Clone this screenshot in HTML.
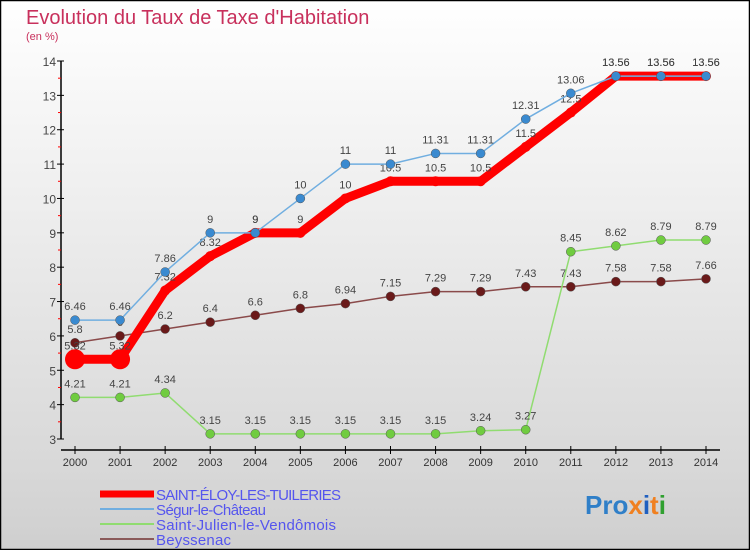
<!DOCTYPE html>
<html><head><meta charset="utf-8"><style>
body{margin:0;width:750px;height:550px;overflow:hidden;font-family:"Liberation Sans",sans-serif}
</style></head><body>
<svg id="c" width="750" height="550" xmlns="http://www.w3.org/2000/svg" style="display:block">
<defs>
<linearGradient id="bg" x1="0" y1="0" x2="0" y2="1">
<stop offset="0" stop-color="#ffffff"/><stop offset="0.85" stop-color="#d8d8d8"/><stop offset="1" stop-color="#cfcfcf"/>
</linearGradient>
</defs>
<rect x="0.5" y="0.5" width="749" height="549" fill="url(#bg)" stroke="#000" stroke-width="1.5"/>
<text x="26" y="24" font-size="20" fill="#c8305c">Evolution du Taux de Taxe d'Habitation</text>
<text x="26" y="40" font-size="11" fill="#c8305c">(en %)</text>
<g id="axes"></g>
<g id="series"></g>
<g id="legend"></g>
<text x="585" y="514" font-size="26" font-weight="bold"><tspan fill="#2f7fc8">Pro</tspan><tspan fill="#f08020">x</tspan><tspan fill="#2060c0">i</tspan><tspan fill="#f08020">t</tspan><tspan fill="#30a030">i</tspan></text>
</svg>
<script>
const years=[2000,2001,2002,2003,2004,2005,2006,2007,2008,2009,2010,2011,2012,2013,2014];
const yTicks=[3,4,5,6,7,8,9,10,11,12,13,14];
const seriesNames=["SAINT-ÉLOY-LES-TUILERIES","Ségur-le-Château","Saint-Julien-le-Vendômois","Beyssenac"];
const eloy=[5.32,5.32,7.32,8.32,9,9,10,10.5,10.5,10.5,11.5,12.5,13.56,13.56,13.56];
const segur=[6.46,6.46,7.86,9,9,10,11,11,11.31,11.31,12.31,13.06,13.56,13.56,13.56];
const julien=[4.21,4.21,4.34,3.15,3.15,3.15,3.15,3.15,3.15,3.24,3.27,8.45,8.62,8.79,8.79];
const beyss=[5.8,6,6.2,6.4,6.6,6.8,6.94,7.15,7.29,7.29,7.43,7.43,7.58,7.58,7.66];

const NS="http://www.w3.org/2000/svg";
const X=i=>75+i*(706-75)/(years.length-1);
const Y=v=>439-(v-3)*(439-61)/11;
function mk(t,a,p){const e=document.createElementNS(NS,t);for(const k in a)e.setAttribute(k,a[k]);p.appendChild(e);return e;}
const ax=document.getElementById('axes');
let yl=mk('line',{x1:61,y1:439,x2:61,y2:61,stroke:'#000','stroke-width':1.5},ax);


let xl=mk('line',{x1:61,y1:450,x2:720,y2:450,stroke:'#000','stroke-width':1.5},ax);


yTicks.forEach(v=>{
  mk('line',{x1:57,y1:Y(v),x2:64,y2:Y(v),stroke:'#000'},ax);
  if(v<14)mk('line',{x1:58,y1:Y(v+0.5),x2:61,y2:Y(v+0.5),stroke:'#f00'},ax);
  const t=mk('text',{x:56,y:Y(v)+5,'font-size':12,fill:'#444','text-anchor':'end'},ax);
  
  
  t.textContent=v;
});
years.forEach((yr,i)=>{
  mk('line',{x1:X(i),y1:446,x2:X(i),y2:454,stroke:'#000'},ax);
  const t=mk('text',{x:X(i),y:466,'font-size':11,fill:'#333','text-anchor':'middle'},ax);
  
  
  t.textContent=yr;
});
const sg=document.getElementById('series');
const defs=[
 {d:beyss,c:'#8a4a4a',dot:'#6a1a1a',w:1.5,r:4.5,n:'beyssenac'},
 {d:julien,c:'#90dc70',dot:'#70cc40',w:1.5,r:4.5,n:'saint-julien'},
 {d:eloy,c:'#f00',dot:'#f00',w:9,r:5,n:'saint-eloy'},
 {d:segur,c:'#70aee0',dot:'#3a8ad0',w:1.5,r:4.5,n:'segur'}];
defs.forEach(s=>{
  const g=mk('g',{},sg);
  
  
  const pl=mk('polyline',{points:s.d.map((v,i)=>X(i)+','+Y(v)).join(' '),fill:'none',stroke:s.c,'stroke-width':s.w,'stroke-linejoin':'round'},g);
  
  
  s.d.forEach((v,i)=>{
    const big=s.n==='saint-eloy'&&i<2;
    const c=mk('circle',{cx:X(i),cy:Y(v),r:big?10:s.r,fill:s.dot,stroke:s.n==='saint-eloy'?'none':'#555','stroke-width':0.5},g);
    
    
    const t=mk('text',{x:X(i),y:Y(v)-10,'font-size':11,fill:'#444','text-anchor':'middle'},g);
    
    
    t.textContent=v;
  });
});
const lg=document.getElementById('legend');
const lc=['#f00','#70aee0','#90dc70','#8a5a5a'],lw=[7,2,2,2];
seriesNames.forEach((n,i)=>{
  const y=494+i*15;
  const l=mk('line',{x1:100,y1:y,x2:154,y2:y,stroke:lc[i],'stroke-width':lw[i]},lg);
  
  
  const t=mk('text',{x:156,y:y+6,'font-size':15,fill:'#5555ee'},lg);
  
  
  t.setAttribute('textLength',i==0?185:i==1?110:i==2?180:75);
  t.textContent=n;
});
</script>
</body></html>
